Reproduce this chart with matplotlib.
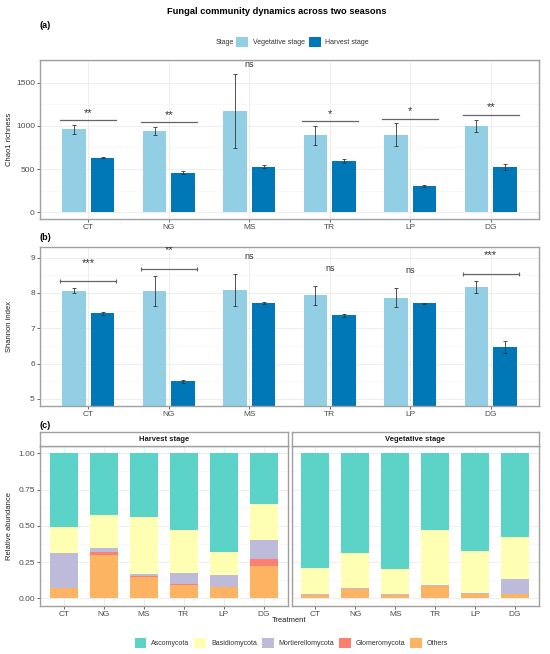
import matplotlib
matplotlib.use("Agg")
import matplotlib.pyplot as plt
import numpy as np
from matplotlib.patches import Patch
from matplotlib.ticker import MultipleLocator

plt.rcParams['font.family'] = ['Liberation Sans', 'DejaVu Sans']

treatments = ['CT', 'NG', 'MS', 'TR', 'LP', 'DG']

# (a) Chao1 richness
chao_veg = [960, 940, 1170, 890, 900, 1000]
chao_veg_err = [52, 48, 425, 110, 130, 72]
chao_har = [632, 460, 528, 592, 305, 525]
chao_har_err = [8, 17, 15, 20, 7, 35]
chao_sig = ['**', '**', 'ns', '*', '*', '**']
chao_sig_line = [1064, 1041, None, 1053, 1080, 1126]
chao_sig_text = [1150, 1125, 1712, 1140, 1170, 1215]

# (b) Shannon index
sh_veg = [8.06, 8.06, 8.09, 7.93, 7.87, 8.18]
sh_veg_err = [0.07, 0.42, 0.45, 0.28, 0.28, 0.17]
sh_har = [7.42, 5.50, 7.71, 7.37, 7.71, 6.46]
sh_har_err = [0.03, 0.05, 0.03, 0.04, 0.02, 0.17]
sh_sig = ['***', '**', 'ns', 'ns', 'ns', '***']
sh_sig_line = [8.34, 8.68, None, None, None, 8.55]
sh_sig_text = [8.86, 9.21, 9.03, 8.70, 8.63, 9.08]

# (c) relative abundance (segment sizes)
phyla = ['Ascomycota', 'Basidiomycota', 'Mortierellomycota', 'Glomeromycota', 'Others']
harvest_ab = {
    'Others': [0.07, 0.30, 0.15, 0.09, 0.08, 0.225],
    'Glomeromycota': [0.003, 0.022, 0.003, 0.01, 0.002, 0.047],
    'Mortierellomycota': [0.237, 0.028, 0.016, 0.076, 0.078, 0.133],
    'Basidiomycota': [0.18, 0.227, 0.39, 0.293, 0.16, 0.243],
    'Ascomycota': [0.51, 0.423, 0.441, 0.531, 0.68, 0.352],
}
veg_ab = {
    'Others': [0.025, 0.065, 0.022, 0.085, 0.03, 0.028],
    'Glomeromycota': [0.001, 0.001, 0.001, 0.001, 0.001, 0.001],
    'Mortierellomycota': [0.006, 0.006, 0.007, 0.004, 0.004, 0.104],
    'Basidiomycota': [0.18, 0.238, 0.175, 0.38, 0.29, 0.288],
    'Ascomycota': [0.788, 0.69, 0.795, 0.53, 0.675, 0.579],
}

col_veg = '#92CFE4'
col_har = '#0077B6'
phy_cols = {'Ascomycota': '#5BD3C6', 'Basidiomycota': '#FFFFB3',
            'Mortierellomycota': '#BEBADA', 'Glomeromycota': '#FB8072',
            'Others': '#FDB462'}

W, H = 550, 654
fig = plt.figure(figsize=(W / 100, H / 100), dpi=100)

LEFT, RIGHT = 40, 539


def rect(l, t, r, b):
    return [l / W, 1 - b / H, (r - l) / W, (b - t) / H]


def style(ax):
    ax.set_facecolor('white')
    for s in ax.spines.values():
        s.set_color('#A0A0A0')
        s.set_linewidth(1.0)
    ax.tick_params(axis='both', labelsize=6, colors='#4D4D4D', length=2.2,
                   width=0.6, pad=1.5)
    ax.tick_params(axis='y', which='minor', length=0)
    ax.grid(True, which='major', color='#EBEBEB', lw=0.6)
    ax.grid(True, which='minor', axis='y', color='#F4F4F4', lw=0.4)
    ax.set_axisbelow(True)


x = np.arange(len(treatments))
off = 0.177
bw = 0.29


def draw_bars(ax, veg, veg_err, har, har_err):
    ax.bar(x - off, veg, bw, color=col_veg)
    ax.bar(x + off, har, bw, color=col_har)
    ax.errorbar(x - off, veg, yerr=veg_err, fmt='none', ecolor='#333333',
                elinewidth=0.7, capsize=1.6, capthick=0.7, alpha=0.85)
    ax.errorbar(x + off, har, yerr=har_err, fmt='none', ecolor='#333333',
                elinewidth=0.7, capsize=1.6, capthick=0.7, alpha=0.85)
    ax.set_xticks(x)
    ax.set_xticklabels(treatments)
    ax.set_xlim(-0.6, 5.6)


def sig_fs(s):
    return 6.5 if s == 'ns' else 8


# panel a
axa = fig.add_axes(rect(LEFT, 60, RIGHT, 219))
style(axa)
draw_bars(axa, chao_veg, chao_veg_err, chao_har, chao_har_err)
axa.set_ylim(-77, 1762)
axa.set_yticks([0, 500, 1000, 1500])
axa.yaxis.set_minor_locator(MultipleLocator(250))
axa.set_ylabel('Chao1 richness', fontsize=5.5, color='#222222')
axa.yaxis.set_label_coords((13 - LEFT) / (RIGHT - LEFT), 0.5)
for i in range(len(treatments)):
    if chao_sig_line[i] is not None:
        axa.plot([x[i] - 0.35, x[i] + 0.35], [chao_sig_line[i]] * 2,
                 color='#666666', lw=0.9)
    axa.text(x[i], chao_sig_text[i], chao_sig[i], ha='center', va='center',
             fontsize=sig_fs(chao_sig[i]), color='#333333')

# panel b
axb = fig.add_axes(rect(LEFT, 246.7, RIGHT, 406))
style(axb)
draw_bars(axb, sh_veg, sh_veg_err, sh_har, sh_har_err)
axb.set_ylim(4.8, 9.31)
axb.set_yticks([5, 6, 7, 8, 9])
axb.yaxis.set_minor_locator(MultipleLocator(0.5))
axb.set_ylabel('Shannon index', fontsize=5.5, color='#222222')
axb.yaxis.set_label_coords((13 - LEFT) / (RIGHT - LEFT), 0.5)
for i in range(len(treatments)):
    if sh_sig_line[i] is not None:
        axb.plot([x[i] - 0.35, x[i] + 0.35], [sh_sig_line[i]] * 2,
                 color='#666666', lw=0.9, marker='|', markersize=3.5,
                 markeredgewidth=0.8)
    axb.text(x[i], sh_sig_text[i], sh_sig[i], ha='center', va='center',
             fontsize=sig_fs(sh_sig[i]), color='#333333', clip_on=True)

# panel c
gap = 4
mid = (LEFT + RIGHT) / 2
panels = [('Harvest stage', harvest_ab, LEFT, mid - gap / 2),
          ('Vegetative stage', veg_ab, mid + gap / 2, RIGHT)]
stack_order = ['Others', 'Glomeromycota', 'Mortierellomycota', 'Basidiomycota', 'Ascomycota']
axes_c = []
for title, data, l, r in panels:
    ax = fig.add_axes(rect(l, 446, r, 605.7))
    style(ax)
    bottom = np.zeros(len(treatments))
    for ph in stack_order:
        vals = np.array(data[ph])
        ax.bar(x, vals, 0.7, bottom=bottom, color=phy_cols[ph])
        bottom += vals
    ax.set_xticks(x)
    ax.set_xticklabels(treatments)
    ax.set_xlim(-0.6, 5.6)
    ax.set_ylim(-0.05, 1.05)
    ax.set_yticks([0, 0.25, 0.5, 0.75, 1.0])
    ax.yaxis.set_minor_locator(MultipleLocator(0.125))
    # strip
    sax = fig.add_axes(rect(l, 432.3, r, 446))
    sax.set_xticks([])
    sax.set_yticks([])
    for s in sax.spines.values():
        s.set_color('#A0A0A0')
        s.set_linewidth(1.0)
    sax.text(0.5, 0.5, title, ha='center', va='center', fontsize=5.5,
             fontweight='bold', color='#1A1A1A', transform=sax.transAxes)
    axes_c.append(ax)

axes_c[0].set_yticklabels(['0.00', '0.25', '0.50', '0.75', '1.00'])
axes_c[1].set_yticklabels([])
axes_c[1].tick_params(axis='y', length=0)
axes_c[0].set_ylabel('Relative abundance', fontsize=5.5, color='#222222')
axes_c[0].yaxis.set_label_coords((13 - LEFT) / (mid - gap / 2 - LEFT), 0.5)
fig.text(mid / W, 1 - 621 / H, 'Treatment', ha='center', va='center',
         fontsize=5.5, color='#222222')

# titles and panel tags
fig.text(277 / W, 1 - 11 / H, 'Fungal community dynamics across two seasons',
         ha='center', va='center', fontsize=6.7, fontweight='bold')
for tag, ty in [('(a)', 25), ('(b)', 238), ('(c)', 425)]:
    fig.text(39 / W, 1 - ty / H, tag, ha='left', va='center', fontsize=6.5,
             fontweight='bold')

# stage legend
fig.text(224.5 / W, 1 - 42 / H, 'Stage', ha='center', va='center', fontsize=5,
         color='#333333')
stage_handles = [Patch(facecolor=col_veg, label='Vegetative stage'),
                 Patch(facecolor=col_har, label='Harvest stage')]
fig.legend(handles=stage_handles, loc='center', bbox_to_anchor=(302.5 / W, 1 - 42 / H),
           ncol=2, frameon=False, fontsize=5, handlelength=1.7, handleheight=1.7,
           handletextpad=0.7, columnspacing=0.6, labelcolor='#333333',
           borderpad=0, borderaxespad=0)

# phylum legend
phy_handles = [Patch(facecolor=phy_cols[p], label=p) for p in phyla]
fig.legend(handles=phy_handles, loc='center', bbox_to_anchor=(291.5 / W, 1 - 643 / H),
           ncol=5, frameon=False, fontsize=5, handlelength=1.7, handleheight=1.7,
           handletextpad=0.7, columnspacing=0.7, labelcolor='#333333',
           borderpad=0, borderaxespad=0)

fig.savefig('out.png', dpi=100, facecolor='white')
